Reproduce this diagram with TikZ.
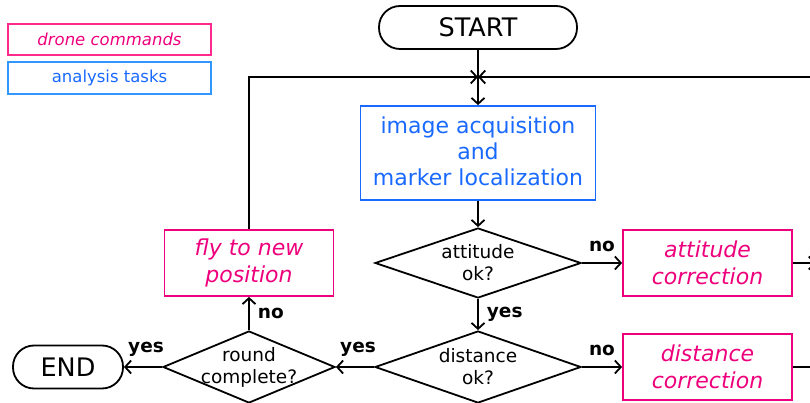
\documentclass[tikz,border=0pt]{standalone}
\usepackage{fontspec}
\setmainfont{DejaVu Sans}
\usetikzlibrary{shapes.geometric,arrows.meta}
\definecolor{dpink}{RGB}{238,0,124}
\definecolor{dblue}{RGB}{25,105,255}
\definecolor{lpink}{RGB}{255,40,140}
\definecolor{lblue}{RGB}{50,150,255}
\tikzset{
  x=1pt,y=-1pt,
  conn/.style={line width=1.8pt,-{Straight Barb[length=6pt,width=13pt,line width=1.8pt]}},
  plain/.style={line width=1.8pt},
  cmdbox/.style={draw=dpink,line width=1.8pt,text=dpink,font=\fontsize{22}{26.5}\selectfont\itshape,align=center,minimum width=169pt,minimum height=66pt,inner sep=0pt},
  taskbox/.style={draw=dblue,line width=1.8pt,text=dblue,font=\fontsize{22}{26}\selectfont,align=center,minimum width=235pt,minimum height=94pt,inner sep=0pt},
  term/.style={draw,line width=1.8pt,rounded corners=21pt,font=\fontsize{25.5}{28}\selectfont,minimum height=43pt,inner sep=0pt},
  dia/.style={draw,diamond,line width=1.8pt,inner sep=0pt},
  diatext/.style={font=\fontsize{18.5}{22}\selectfont,align=center,inner sep=0pt},
  lab/.style={font=\fontsize{18.5}{20}\selectfont\bfseries,inner sep=0pt},
  legpink/.style={draw=lpink,line width=1.4pt,text=dpink,font=\fontsize{16.5}{18}\selectfont\itshape,minimum width=203pt,minimum height=31pt,inner sep=0pt},
  legblue/.style={draw=lblue,line width=1.4pt,text=dblue,font=\fontsize{16.5}{18}\selectfont,minimum width=203pt,minimum height=32pt,inner sep=0pt},
}
\begin{document}
\begin{tikzpicture}
\useasboundingbox (0,0) rectangle (810,403);
\clip (0,0) rectangle (810,403);
% legend
\node[legpink] (lg1) at (109.5,39.5) {drone commands};
\node[legblue] (lg2) at (109.5,78) {analysis tasks};
% main nodes
\node[term,minimum width=198pt] (start) at (478,27.5) {START};
\node[taskbox] (img) at (478,153) {};
\node[text=dblue,font=\fontsize{22}{26}\selectfont,align=center,inner sep=0pt] at (478,151.5) {image acquisition\\and\\marker localization};
\node[dia,minimum width=206pt,minimum height=70pt] (att) at (478,263) {};
\node[diatext] at (478,263) {attitude\\ok?};
\node[cmdbox] (attc) at (707.5,263) {attitude\\correction};
\node[dia,minimum width=206pt,minimum height=72pt] (dist) at (478,367) {};
\node[diatext] at (478,367) {distance\\ok?};
\node[cmdbox] (distc) at (707.5,367) {distance\\correction};
\node[dia,minimum width=172pt,minimum height=72pt] (round) at (249,367) {};
\node[diatext] at (249,367) {round\\complete?};
\node[cmdbox] (fly) at (249,263) {fly to new\\position};
\node[term,minimum width=110pt] (end) at (68,367) {END};
% helper coordinates
\coordinate (merge) at (478,77);
\coordinate (rin) at (830,77);
\coordinate (corner) at (249,77);
\coordinate (attout) at (816,263);
\coordinate (distout) at (830,367);
% connectors
\draw[conn] (start.south) -- (img.north);
\draw[conn] (fly.north) -- (corner) -- (merge);
\draw[conn] (rin) -- (merge);
\draw[conn] (img.south) -- (att.north);
\draw[conn] (att.east) -- node[lab,above=10pt] {no} (attc.west);
\draw[conn] (attc.east) -- (attout);
\draw[conn] (att.south) -- node[lab,right=8pt] {yes} (dist.north);
\draw[conn] (dist.east) -- node[lab,above=10pt] {no} (distc.west);
\draw[plain] (distc.east) -- (distout);
\draw[conn] (dist.west) -- node[lab,above=10pt,xshift=3pt] {yes} (round.east);
\draw[conn] (round.north) -- node[lab,right=8pt] {no} (fly.south);
\draw[conn] (round.west) -- node[lab,above=10pt,xshift=3pt] {yes} (end.east);
\end{tikzpicture}
\end{document}
